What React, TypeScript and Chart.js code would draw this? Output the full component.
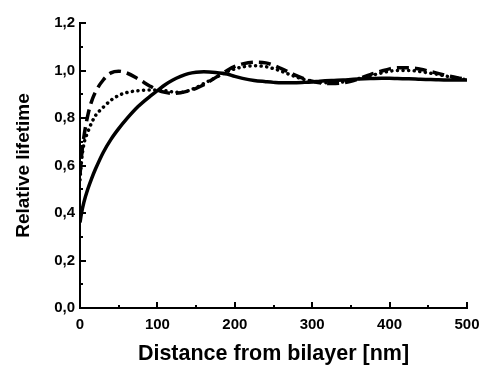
import React, { useEffect, useRef } from "react";
import { Chart, registerables } from "chart.js";

Chart.register(...registerables);

const distance = [0, 2, 5, 10, 15, 20, 30, 40, 50, 60, 75, 90, 100, 110, 120, 130, 140, 150, 160, 175, 190, 200, 210, 225, 240, 250, 260, 275, 290, 300, 310, 325, 340, 350, 360, 375, 390, 400, 410, 425, 440, 450, 460, 475, 490, 500];

const solidSeries = [0.36, 0.40, 0.445, 0.50, 0.545, 0.585, 0.655, 0.71, 0.755, 0.795, 0.848, 0.89, 0.915, 0.94, 0.96, 0.975, 0.987, 0.993, 0.995, 0.992, 0.985, 0.975, 0.967, 0.958, 0.953, 0.95, 0.948, 0.948, 0.95, 0.952, 0.955, 0.958, 0.96, 0.962, 0.964, 0.966, 0.967, 0.967, 0.966, 0.965, 0.963, 0.962, 0.961, 0.96, 0.96, 0.96];

const dashedSeries = [0.56, 0.64, 0.72, 0.81, 0.87, 0.91, 0.96, 0.99, 0.997, 0.99, 0.965, 0.935, 0.918, 0.908, 0.904, 0.906, 0.914, 0.925, 0.94, 0.97, 1.0, 1.017, 1.028, 1.035, 1.032, 1.022, 1.008, 0.985, 0.965, 0.955, 0.948, 0.945, 0.948, 0.955, 0.965, 0.983, 0.998, 1.007, 1.012, 1.012, 1.005, 0.998, 0.99, 0.978, 0.968, 0.962];

const dottedSeries = [0.54, 0.62, 0.69, 0.74, 0.78, 0.81, 0.845, 0.875, 0.895, 0.907, 0.915, 0.918, 0.918, 0.915, 0.91, 0.908, 0.915, 0.928, 0.945, 0.97, 0.995, 1.007, 1.015, 1.02, 1.016, 1.008, 0.997, 0.978, 0.962, 0.955, 0.95, 0.948, 0.952, 0.958, 0.966, 0.978, 0.99, 0.997, 1.0, 1.0, 0.995, 0.99, 0.985, 0.975, 0.966, 0.962];

const xTickValues = [0, 100, 200, 300, 400, 500];
const xMinorValues = [50, 150, 250, 350, 450];
const yTickValues = [0, 0.2, 0.4, 0.6, 0.8, 1.0, 1.2];
const yMinorValues = [0.1, 0.3, 0.5, 0.7, 0.9, 1.1];

const FONT = "'Liberation Sans', Arial, sans-serif";

const insideTicks = {
  id: "insideTicks",
  afterDraw(chart: any) {
    const { ctx, chartArea, scales } = chart;
    const xs = scales.x;
    const ys = scales.y;
    ctx.save();
    ctx.strokeStyle = "#000";
    ctx.lineWidth = 2;
    ctx.beginPath();
    const bottom = chartArea.bottom;
    const left = chartArea.left;
    xTickValues.forEach((v) => {
      const px = Math.round(xs.getPixelForValue(v));
      ctx.moveTo(px, bottom);
      ctx.lineTo(px, bottom - 6);
    });
    xMinorValues.forEach((v) => {
      const px = Math.round(xs.getPixelForValue(v));
      ctx.moveTo(px, bottom);
      ctx.lineTo(px, bottom - 3);
    });
    yTickValues.forEach((v) => {
      const py = Math.round(ys.getPixelForValue(v));
      ctx.moveTo(left, py);
      ctx.lineTo(left + 6, py);
    });
    yMinorValues.forEach((v) => {
      const py = Math.round(ys.getPixelForValue(v));
      ctx.moveTo(left, py);
      ctx.lineTo(left + 3, py);
    });
    ctx.stroke();
    ctx.restore();
  },
};

export default function App() {
  const ref = useRef<HTMLCanvasElement | null>(null);

  useEffect(() => {
    if (!ref.current) return;
    const mk = (vals: number[]) => distance.map((d, i) => ({ x: d, y: vals[i] }));
    const chart = new Chart(ref.current, {
      type: "line",
      data: {
        datasets: [
          {
            data: mk(solidSeries),
            borderColor: "#000",
            borderWidth: 3.5,
            pointRadius: 0,
            cubicInterpolationMode: "monotone",
            fill: false,
          },
          {
            data: mk(dashedSeries),
            borderColor: "#000",
            borderWidth: 3.5,
            borderDash: [12, 6],
            pointRadius: 0,
            cubicInterpolationMode: "monotone",
            fill: false,
          },
          {
            data: mk(dottedSeries),
            borderColor: "#000",
            borderWidth: 3.5,
            borderDash: [0.1, 5.5],
            borderCapStyle: "round",
            pointRadius: 0,
            cubicInterpolationMode: "monotone",
            fill: false,
          },
        ],
      },
      options: {
        animation: false,
        responsive: false,
        maintainAspectRatio: false,
        layout: { padding: { top: 23, right: 15, left: 0, bottom: 0 } },
        plugins: { legend: { display: false }, tooltip: { enabled: false } },
        scales: {
          x: {
            type: "linear",
            min: 0,
            max: 500,
            afterFit: (s: any) => {
              s.height = 59;
              s.paddingRight = 0;
              s.paddingLeft = 0;
            },
            afterBuildTicks: (s: any) => {
              s.ticks = xTickValues.map((v) => ({ value: v }));
            },
            grid: { display: false, drawTicks: false },
            border: { display: true, width: 2, color: "#000" },
            ticks: {
              padding: 8,
              color: "#000",
              font: { family: FONT, size: 15, weight: "bold" },
              maxRotation: 0,
              callback: (v: any) => String(v),
            },
            title: {
              display: true,
              text: "Distance from bilayer [nm]",
              color: "#000",
              font: { family: FONT, size: 21.5, weight: "bold" },
              padding: { top: 0, bottom: 0 },
            },
          },
          y: {
            type: "linear",
            min: 0,
            max: 1.2,
            afterFit: (s: any) => {
              s.width = 80;
              s.paddingTop = 0;
              s.paddingBottom = 0;
            },
            afterBuildTicks: (s: any) => {
              s.ticks = yTickValues.map((v) => ({ value: v }));
            },
            grid: { display: false, drawTicks: false },
            border: { display: true, width: 2, color: "#000" },
            ticks: {
              padding: 5,
              color: "#000",
              font: { family: FONT, size: 15, weight: "bold" },
              callback: (v: any) => Number(v).toFixed(1).replace(".", ","),
            },
            title: {
              display: true,
              text: "Relative lifetime",
              color: "#000",
              font: { family: FONT, size: 19, weight: "bold" },
              padding: { top: 12, bottom: 0 },
            },
          },
        },
      },
      plugins: [insideTicks],
    } as any);
    return () => chart.destroy();
  }, []);

  return (
    <div style={{ position: "absolute", left: 0, top: 0, width: 482, height: 367, background: "#fff" }}>
      <canvas ref={ref} width={482} height={367} />
    </div>
  );
}
